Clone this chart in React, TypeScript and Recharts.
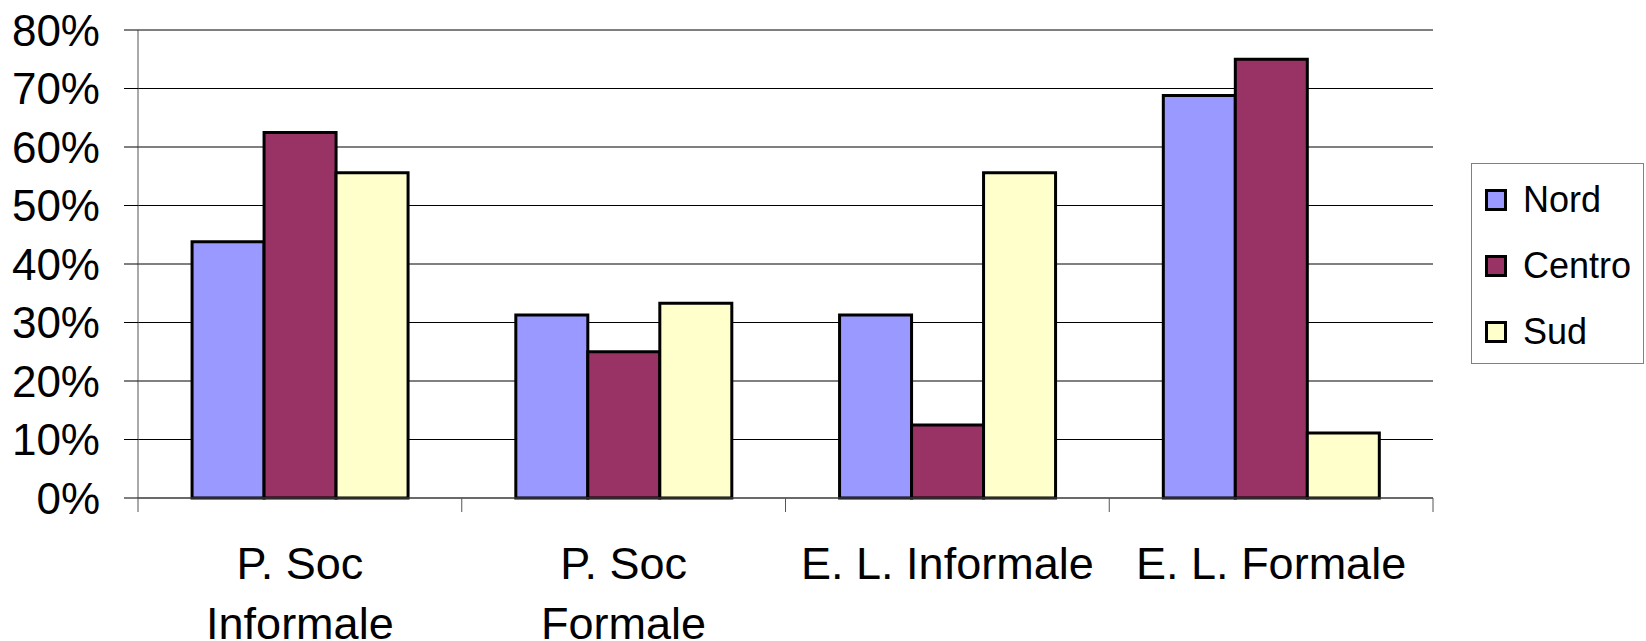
import { Bar, BarChart, CartesianGrid, Legend, XAxis, YAxis } from "recharts";

document.body.style.margin = "0";

const FONT = "'Liberation Sans', Arial, sans-serif";

// categorie (a capo esplicito come nel grafico originale)
const categories = ["P. Soc\nInformale", "P. Soc\nFormale", "E. L. Informale", "E. L. Formale"];
const nord = [43.8, 31.3, 31.3, 68.8];
const centro = [62.5, 25, 12.5, 75];
const sud = [55.6, 33.3, 55.6, 11.1];
const yTicks = [0, 10, 20, 30, 40, 50, 60, 70, 80];

const series = [
  { key: "nord", name: "Nord", fill: "#9999FF" },
  { key: "centro", name: "Centro", fill: "#993366" },
  { key: "sud", name: "Sud", fill: "#FFFFCC" },
];

const data = categories.map((label, i) => ({
  label,
  nord: nord[i],
  centro: centro[i],
  sud: sud[i],
}));

// etichetta su due righe + tacche ai bordi della categoria (stile Excel)
function CategoryTick({ x, y, payload, index }: any) {
  const lines = String(payload.value).split("\n");
  const half = Number(payload.offset) || 0;
  const last = index === categories.length - 1;
  return (
    <g>
      <line x1={x - half} x2={x - half} y1={y} y2={y + 14} stroke="#555" />
      {last && <line x1={x + half} x2={x + half} y1={y} y2={y + 14} stroke="#555" />}
      <text x={x} y={y} textAnchor="middle" fontSize={45} fill="#000" fontFamily={FONT}>
        {lines.map((l, i) => (
          <tspan key={i} x={x} y={y + 81 + i * 60}>
            {l}
          </tspan>
        ))}
      </text>
    </g>
  );
}

function LegendBox() {
  return (
    <div
      style={{
        width: 171,
        height: 199,
        border: "1px solid #808080",
        background: "#fff",
        fontFamily: FONT,
        fontSize: 36,
        boxSizing: "content-box",
        position: "relative",
      }}
    >
      {series.map((s, i) => (
        <div
          key={s.key}
          style={{ position: "absolute", left: 13, top: 25 + i * 66, height: 22, display: "flex", alignItems: "center" }}
        >
          <span
            style={{
              width: 16,
              height: 16,
              border: "3px solid #000",
              background: s.fill,
              display: "inline-block",
            }}
          />
          <span style={{ marginLeft: 16, lineHeight: "22px", color: "#000" }}>{s.name}</span>
        </div>
      ))}
    </div>
  );
}

export default function App() {
  return (
    <div style={{ width: 1646, height: 641, background: "#fff", fontFamily: FONT }}>
      <BarChart
        width={1646}
        height={641}
        data={data}
        margin={{ top: 30, right: 213, bottom: 0, left: 0 }}
        barCategoryGap="16.7%"
        barGap={0}
      >
        <CartesianGrid stroke="#000" vertical={false} />
        <XAxis
          dataKey="label"
          interval={0}
          tick={<CategoryTick />}
          tickLine={false}
          tickSize={0}
          tickMargin={0}
          axisLine={{ stroke: "#555" }}
          height={143}
        />
        <YAxis
          domain={[0, 80]}
          ticks={yTicks}
          tickFormatter={(v) => `${v}%`}
          width={138}
          tickSize={14}
          tickMargin={24}
          axisLine={{ stroke: "#555" }}
          tickLine={{ stroke: "#000" }}
          tick={{ fill: "#000", fontSize: 44, fontFamily: FONT }}
        />
        <Legend
          layout="horizontal"
          align="center"
          verticalAlign="middle"
          content={() => <LegendBox />}
          wrapperStyle={{ left: 1471, top: 163, width: 173, height: 201 }}
        />
        {series.map((s) => (
          <Bar
            key={s.key}
            dataKey={s.key}
            name={s.name}
            fill={s.fill}
            stroke="#000"
            strokeWidth={3}
            isAnimationActive={false}
          />
        ))}
      </BarChart>
    </div>
  );
}
